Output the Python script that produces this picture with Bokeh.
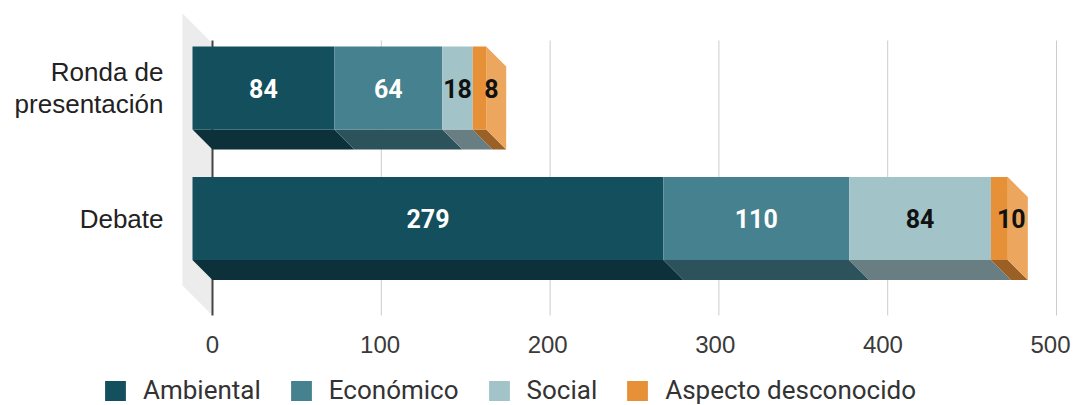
from bokeh.plotting import figure
from bokeh.models import Range1d, LinearAxis, FixedTicker, Legend, LegendItem, ColumnDataSource, Grid
from bokeh.core.properties import value
from bokeh.embed import file_html
from bokeh.resources import INLINE

# ---------------- data ----------------
categories = ["Ronda de\npresentación", "Debate"]
series = ["Ambiental", "Económico", "Social", "Aspecto desconocido"]
ambiental = [84, 279]
economico = [64, 110]
social = [18, 84]
desconocido = [8, 10]
x_ticks = [0, 100, 200, 300, 400, 500]

values = [ambiental, economico, social, desconocido]

# ---------------- style ----------------
colors = ["#134f5c", "#45818e", "#a2c4c9", "#e69138"]
bottom_colors = ["#0c313a", "#2c525b", "#687e82", "#9a6025"]
side_color = "#eca65d"
label_colors = ["white", "white", "#111111", "#111111"]
label_dx = [0, 0, 0, 12]

W, H = 1083, 405
PX = 1.688          # px per unit (bars / grid)
PXL = 1.676         # px per unit (tick labels)
ZERO = 212          # px of value 0 on back plane
PY = 130.5          # px per category step
C0 = 87.5           # px of first category (front face centre)

DX = 20 / PX        # depth offset
DY = 20 / PY
BAR_H = 83 / PY
WALL = 30 / PX

def vy(py):
    return (py - C0) / PY

def vx(px):
    return (px - ZERO) / PX

x_range = Range1d(vx(0), vx(W))
y_range = Range1d(vy(H), vy(0))

p = figure(width=W, height=H, x_range=x_range, y_range=y_range,
           output_backend="svg", toolbar_location=None,
           x_axis_location=None, y_axis_location=None,
           min_border=0, outline_line_color=None)
p.center = [r for r in p.center if not isinstance(r, Grid)]
p.extra_x_ranges = {"lab": Range1d(-ZERO / PXL, (W - ZERO) / PXL)}

cats = list(range(len(categories)))

# left wall
wall_top_f, wall_bot_f = vy(13), vy(285)
p.patch(x=[-WALL, 0, 0, -WALL], y=[wall_top_f, wall_top_f + 30 / PY, wall_bot_f + 30 / PY, wall_bot_f],
        fill_color="#ececec", line_color=None)

# grid lines
g_top, g_bot = vy(40), vy(315)
p.segment(x0=x_ticks[1:], x1=x_ticks[1:], y0=[g_top] * 5, y1=[g_bot] * 5,
          line_color="#cccccc", line_width=1)
p.segment(x0=[x_ticks[0]], x1=[x_ticks[0]], y0=[g_top], y1=[g_bot],
          line_color="#444444", line_width=2)

# stacked geometry
starts = []
ends = []
acc = [0] * len(cats)
for vals in values:
    starts.append(list(acc))
    acc = [a + v for a, v in zip(acc, vals)]
    ends.append(list(acc))

front_renderers = []
for i, vals in enumerate(values):
    # bottom face
    xs, ys = [], []
    for c in cats:
        l, r = starts[i][c] - DX, ends[i][c] - DX
        yb = c + BAR_H / 2
        xs.append([l, r, r + DX, l + DX])
        ys.append([yb, yb, yb + DY, yb + DY])
    p.patches(xs=xs, ys=ys, fill_color=bottom_colors[i], line_color=None)

# side face of last segment
xs, ys = [], []
for c in cats:
    r = ends[-1][c] - DX
    yt, yb = c - BAR_H / 2, c + BAR_H / 2
    xs.append([r, r + DX, r + DX, r])
    ys.append([yt, yt + DY, yb + DY, yb])
p.patches(xs=xs, ys=ys, fill_color=side_color, line_color=None)

for i, vals in enumerate(values):
    src = ColumnDataSource(dict(
        y=cats,
        left=[s - DX for s in starts[i]],
        right=[e - DX for e in ends[i]],
        xm=[(s + e) / 2 - DX for s, e in zip(starts[i], ends[i])],
        txt=[str(v) for v in vals],
    ))
    r = p.hbar(y="y", left="left", right="right", height=BAR_H, source=src,
               fill_color=colors[i], line_color=None)
    front_renderers.append(r)
    p.text(x="xm", y="y", text="txt", source=src, x_offset=label_dx[i],
           text_align="center", text_baseline="middle",
           text_font=value("Roboto"), text_font_style="bold", text_font_size="25px",
           text_color=label_colors[i])

# axes
xaxis = LinearAxis(x_range_name="lab", ticker=FixedTicker(ticks=x_ticks),
                   fixed_location=vy(335),
                   axis_line_color=None, major_tick_line_color=None, minor_tick_line_color=None,
                   major_tick_out=0, major_tick_in=0,
                   major_label_text_font="Liberation Sans", major_label_text_font_size="24px",
                   major_label_text_color="#3a3a3a", major_label_standoff=0)
p.add_layout(xaxis, "below")

yaxis = LinearAxis(ticker=FixedTicker(ticks=cats),
                   major_label_overrides={c: categories[c] for c in cats},
                   fixed_location=vx(170),
                   axis_line_color=None, major_tick_line_color=None, minor_tick_line_color=None,
                   major_tick_out=0, major_tick_in=0,
                   major_label_text_font="Liberation Sans", major_label_text_font_size="26px",
                   major_label_text_color="#222222", major_label_standoff=7,
                   major_label_text_line_height=1.05)
p.add_layout(yaxis, "left")

legend = Legend(items=[LegendItem(label=s, renderers=[r]) for s, r in zip(series, front_renderers)],
                orientation="horizontal", location=(102, 0), padding=0, margin=0,
                spacing=27, glyph_width=26, glyph_height=25, label_standoff=15,
                border_line_color=None, background_fill_alpha=0,
                label_text_font="Roboto", label_text_font_size="26px",
                label_text_color="#333333")
p.add_layout(legend)

open("out.html", "w").write(file_html(p, INLINE))
